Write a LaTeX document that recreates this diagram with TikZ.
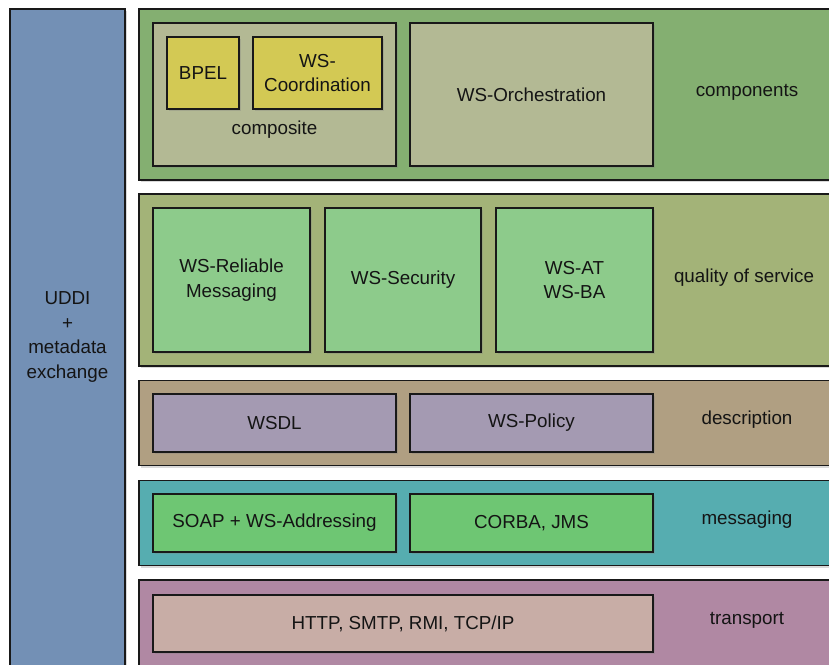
\documentclass[tikz,border=0pt]{standalone}
\usepackage{fontspec}
\setmainfont{Liberation Sans}
\usetikzlibrary{shadows}

\definecolor{uddiBlue}{HTML}{7390B5}
\definecolor{compGreen}{HTML}{84AF71}
\definecolor{compBox}{HTML}{B3B994}
\definecolor{bpelYellow}{HTML}{D3C954}
\definecolor{qosLayer}{HTML}{A3B378}
\definecolor{qosBox}{HTML}{8DCB8B}
\definecolor{descLayer}{HTML}{B09F82}
\definecolor{descBox}{HTML}{A49AB2}
\definecolor{msgLayer}{HTML}{56ADB0}
\definecolor{msgBox}{HTML}{6EC673}
\definecolor{transLayer}{HTML}{B088A3}
\definecolor{transBox}{HTML}{C8ADA6}

\begin{document}
\begin{tikzpicture}[x=1pt, y=-1pt,
    every node/.style={font=\fontsize{18.8}{24.5}\selectfont, text=black!92},
    box/.style={draw=black!90, line width=1.3pt, rectangle, inner sep=0pt, align=center,
        drop shadow={shadow xshift=2pt, shadow yshift=-2pt, opacity=0.3}},
    tag/.style={align=center, inner sep=0pt}
]
\useasboundingbox (0,0) rectangle (829,664);
\clip (0,0) rectangle (829,664);

% --- 1. REGISTRY COLUMN (Left) ---
\node[box, fill=uddiBlue, minimum width=115pt, minimum height=663pt] (uddi) at (67.5,340.5) {};
\node[tag] (uddi-text) at (67.5,337) {UDDI\\+\\metadata\\exchange};

% --- 2. LAYERS ---
\node[box, fill=compGreen, minimum width=696pt, minimum height=171pt] (components) at (487,94.5) {};
\node[box, fill=qosLayer, minimum width=696pt, minimum height=172pt] (qos) at (487,280) {};
\node[box, fill=descLayer, minimum width=696pt, minimum height=85.5pt] (description) at (487,423) {};
\node[box, fill=msgLayer, minimum width=696pt, minimum height=85.5pt] (messaging) at (487,523) {};
\node[box, fill=transLayer, minimum width=696pt, minimum height=92pt] (transport) at (487,626) {};

% Layer names
\node[tag] (components-text) at (747,92) {components};
\node[tag] (qos-text) at (744,278) {quality of service};
\node[tag] (description-text) at (747,420) {description};
\node[tag] (messaging-text) at (747,520) {messaging};
\node[tag] (transport-text) at (747,620) {transport};

% --- 3. COMPONENTS ---
\node[box, fill=compBox, minimum width=243pt, minimum height=143pt] (composite) at (274.5,94.5) {};
\node[box, fill=bpelYellow, minimum width=72pt, minimum height=72pt] (bpel) at (203,73) {BPEL};
\node[box, fill=bpelYellow, minimum width=129pt, minimum height=72pt] (coord) at (317.5,73) {WS-\\Coordination};
\node[tag] (composite-text) at (274.5,130) {composite};
\node[box, fill=compBox, minimum width=243pt, minimum height=143pt] (orch) at (531.5,94.5) {WS-Orchestration};

% --- 4. QUALITY OF SERVICE ---
\node[box, fill=qosBox, minimum width=157pt, minimum height=144pt] (rm) at (231.5,280) {WS-Reliable\\Messaging};
\node[box, fill=qosBox, minimum width=156pt, minimum height=144pt] (security) at (403,280) {WS-Security};
\node[box, fill=qosBox, minimum width=157pt, minimum height=144pt] (atba) at (574.5,280) {WS-AT\\WS-BA};

% --- 5. DESCRIPTION ---
\node[box, fill=descBox, minimum width=243pt, minimum height=58pt] (wsdl) at (274.5,423) {WSDL};
\node[box, fill=descBox, minimum width=243pt, minimum height=58pt] (policy) at (531.5,423) {WS-Policy};

% --- 6. MESSAGING ---
\node[box, fill=msgBox, minimum width=243pt, minimum height=58pt] (soap) at (274.5,523) {SOAP + WS-Addressing};
\node[box, fill=msgBox, minimum width=243pt, minimum height=58pt] (corba) at (531.5,523) {CORBA, JMS};

% --- 7. TRANSPORT ---
\node[box, fill=transBox, minimum width=500pt, minimum height=57pt] (http) at (403,623.5) {HTTP, SMTP, RMI, TCP/IP};

\end{tikzpicture}
\end{document}
